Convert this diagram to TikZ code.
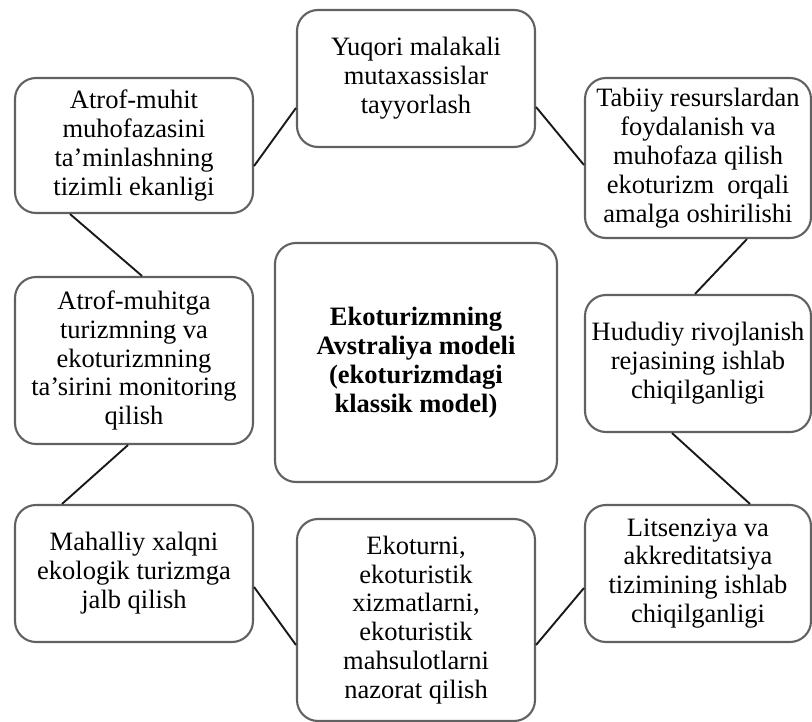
\documentclass[tikz,border=0pt]{standalone}
\usepackage{fontspec}
\setmainfont{Liberation Serif}
\begin{document}
\begin{tikzpicture}[x=1pt,y=-1pt,
  box/.style={draw=black!62, line width=2.1pt, rounded corners=21pt, fill=white, align=center, inner sep=1pt,
    font=\fontsize{26.5}{28.9}\selectfont},
  link/.style={draw=black!90, line width=1.9pt}]
\useasboundingbox (0,0) rectangle (812,722);
\node[box, minimum width=238pt, minimum height=135pt] (A1) at (134,145.5) {Atrof-muhit\\muhofazasini\\ta’minlashning\\tizimli ekanligi};
\node[box, minimum width=238pt, minimum height=137pt] (Y) at (416,78.5) {Yuqori malakali\\mutaxassislar\\tayyorlash};
\node[box, minimum width=226pt, minimum height=160pt] (T) at (698,158) {Tabiiy resurslardan\\foydalanish va\\muhofaza qilish\\ekoturizm\ \ orqali\\amalga oshirilishi};
\node[box, minimum width=282pt, minimum height=239pt] (C) at (416,362.5) {\bfseries Ekoturizmning\\\bfseries Avstraliya modeli\\\bfseries (ekoturizmdagi\\\bfseries klassik model)};
\node[box, minimum width=238pt, minimum height=167pt] (A2) at (134,360.5) {Atrof-muhitga\\turizmning va\\ekoturizmning\\ta’sirini monitoring\\qilish};
\node[box, minimum width=226pt, minimum height=137pt] (H) at (698,363.5) {Hududiy rivojlanish\\rejasining ishlab\\chiqilganligi};
\node[box, minimum width=238pt, minimum height=137pt] (M) at (134,573.5) {Mahalliy xalqni\\ekologik turizmga\\jalb qilish};
\node[box, minimum width=238pt, minimum height=202pt] (E) at (416,620) {Ekoturni,\\ekoturistik\\xizmatlarni,\\ekoturistik\\mahsulotlarni\\nazorat qilish};
\node[box, minimum width=226pt, minimum height=137pt] (L) at (698,573.5) {Litsenziya va\\akkreditatsiya\\tizimining ishlab\\chiqilganligi};
\draw[link] ([yshift=-20.5pt]A1.east) -- ([yshift=-29.5pt]Y.west);
\draw[link] ([yshift=-28.5pt]Y.east) -- ([yshift=-7pt]T.west);
\draw[link] ([xshift=-64pt]A1.south) -- ([xshift=8pt]A2.north);
\draw[link] ([xshift=49pt]T.south) -- ([xshift=-3pt]H.north);
\draw[link] ([xshift=-6pt]A2.south) -- ([xshift=-72pt]M.north);
\draw[link] ([xshift=-26pt]H.south) -- ([xshift=52pt]L.north);
\draw[link] ([yshift=-13.5pt]M.east) -- ([yshift=-25pt]E.west);
\draw[link] ([yshift=-25pt]E.east) -- ([yshift=-14.5pt]L.west);
\end{tikzpicture}
\end{document}
